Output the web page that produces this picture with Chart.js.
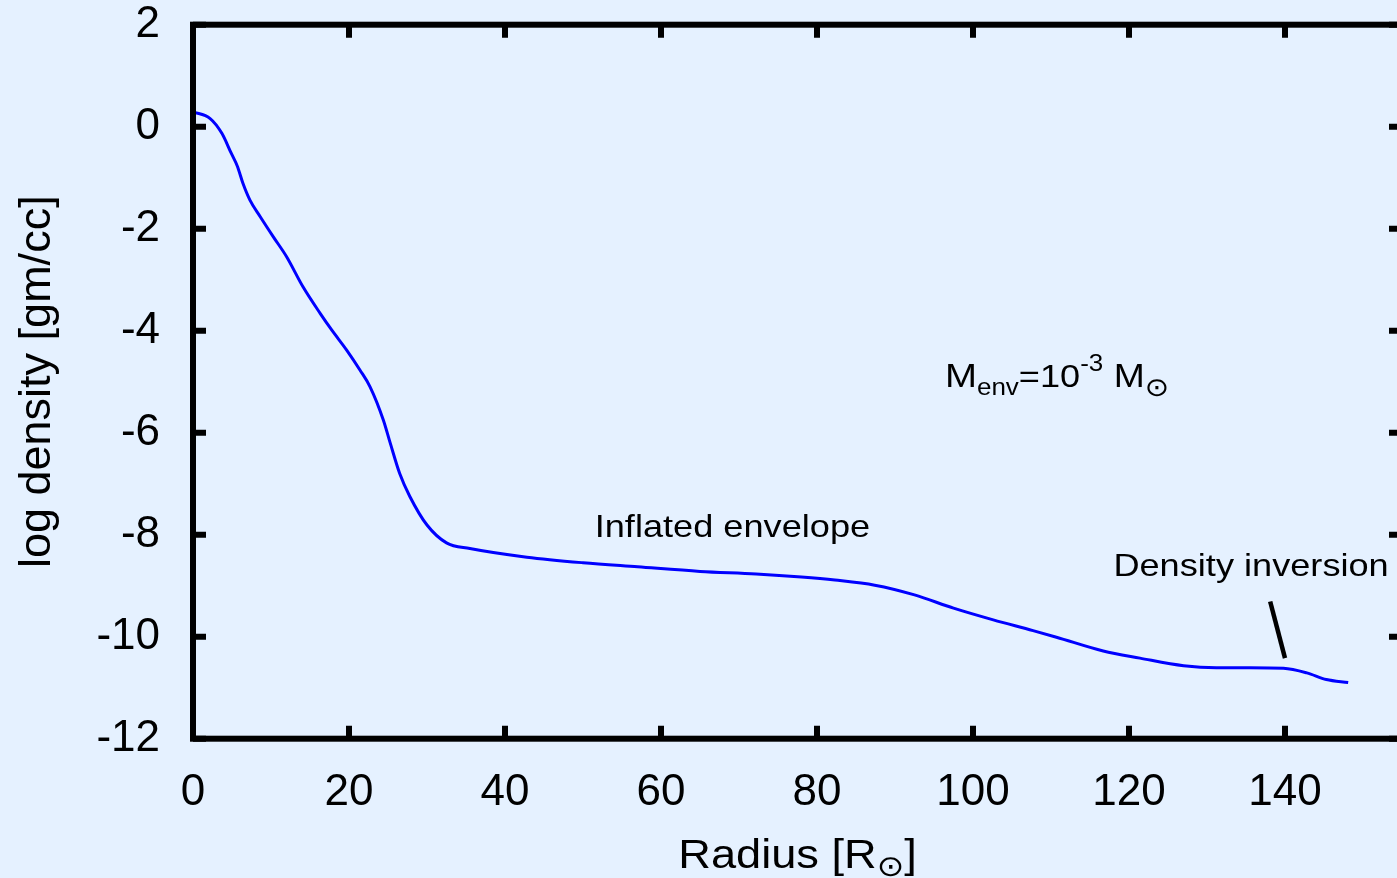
<!DOCTYPE html>
<html>
<head>
<meta charset="utf-8">
<title>log density profile</title>
<script src="https://cdn.jsdelivr.net/npm/chart.js@4.4.0/dist/chart.umd.min.js"></script>
<style>
html, body { margin: 0; padding: 0; background: #e5f1ff; overflow: hidden; }
#wrap { position: absolute; left: 0; top: 0; width: 1410px; height: 878px; }
</style>
</head>
<body>
<div id="wrap"><canvas id="chart1" width="1410" height="878"></canvas></div>
<script>
var radius = [0, 2.2, 3.7, 4.9, 5.7, 6.4, 7.3, 8.6, 10.3, 12.0, 14.1, 16.3, 17.8, 19.7, 21.4, 22.7,
    24.4, 25.3, 26.5, 27.8, 30.0, 32.5, 35.5, 42.8, 50, 57, 65, 72.2, 78, 82.3, 87.4, 92.5,
    97.5, 102.6, 107.7, 110.7, 116.7, 121.4, 127, 131.2, 135.5, 139.8, 142.8, 145.3, 148.1];
var logDensity = [0.29, 0.16, -0.13, -0.52, -0.78, -1.11, -1.44, -1.76, -2.16, -2.55, -3.14, -3.66, -3.99, -4.38, -4.77, -5.10,
    -5.75, -6.21, -6.80, -7.25, -7.81, -8.16, -8.27, -8.44, -8.55, -8.63, -8.72, -8.77, -8.83, -8.89, -8.99, -9.18,
    -9.44, -9.67, -9.88, -10.01, -10.28, -10.42, -10.57, -10.61, -10.61, -10.62, -10.71, -10.84, -10.90];

var xTicks = [0, 20, 40, 60, 80, 100, 120, 140];
var yTicks = [2, 0, -2, -4, -6, -8, -10, -12];

var FONT = "'Liberation Sans', Arial, sans-serif";
var SYM = "'DejaVu Sans', sans-serif";
var SX = 1.13;   // el texto original sale algo ensanchado

Chart.defaults.font.family = FONT;
Chart.defaults.color = '#000';

// dibuja texto con sub/superíndices, pieza a pieza
function drawRich(ctx, parts, x, y, align) {
    var widths = parts.map(function (p) {
        ctx.font = p[1] + 'px ' + (p[3] || FONT);
        return ctx.measureText(p[0]).width * SX;
    });
    var total = widths.reduce(function (a, b) { return a + b; }, 0);
    var cx = align === 'center' ? x - total / 2 : x;
    parts.forEach(function (p, i) {
        ctx.save();
        ctx.font = p[1] + 'px ' + (p[3] || FONT);
        ctx.textAlign = 'left';
        ctx.textBaseline = 'alphabetic';
        ctx.fillStyle = '#000';
        ctx.translate(cx, y + p[2]);
        ctx.scale(SX, 1);
        ctx.fillText(p[0], 0, 0);
        ctx.restore();
        cx += widths[i];
    });
}

// marco grueso con marcas hacia dentro, como gnuplot
var framePlugin = {
    id: 'frame',
    afterDatasetsDraw: function (chart) {
        var ctx = chart.ctx, a = chart.chartArea;
        var xs = chart.scales.x, ys = chart.scales.y;
        var tick = 13;
        ctx.save();
        ctx.strokeStyle = '#000';
        ctx.lineWidth = 6;
        ctx.lineCap = 'butt';
        ctx.beginPath();
        xTicks.forEach(function (v) {
            var px = xs.getPixelForValue(v);
            ctx.moveTo(px, a.bottom); ctx.lineTo(px, a.bottom - tick);
            ctx.moveTo(px, a.top); ctx.lineTo(px, a.top + tick);
        });
        yTicks.forEach(function (v) {
            var py = ys.getPixelForValue(v);
            ctx.moveTo(a.left, py); ctx.lineTo(a.left + tick, py);
            ctx.moveTo(a.right, py); ctx.lineTo(a.right - tick, py);
        });
        ctx.stroke();
        ctx.lineJoin = 'miter';
        ctx.strokeRect(a.left, a.top, a.right - a.left, a.bottom - a.top);
        ctx.restore();
    }
};

// etiquetas, flecha y títulos de ejes
var notesPlugin = {
    id: 'notes',
    afterDraw: function (chart) {
        var ctx = chart.ctx, a = chart.chartArea;
        var xs = chart.scales.x, ys = chart.scales.y;

        drawRich(ctx, [['Inflated envelope', 32, 0]], xs.getPixelForValue(51.5), ys.getPixelForValue(-8.05), 'left');
        drawRich(ctx, [['Density inversion', 32, 0]], xs.getPixelForValue(118.0), ys.getPixelForValue(-8.81), 'left');
        drawRich(ctx, [['M', 34, 0], ['env', 23, 8.3], ['=10', 32, 0], ['-3', 23, -16], [' M', 33, 0], ['\u2299', 26, 9, SYM]],
            xs.getPixelForValue(96.4), ys.getPixelForValue(-5.10), 'left');

        ctx.save();
        ctx.strokeStyle = '#000';
        ctx.lineWidth = 4.5;
        ctx.beginPath();
        ctx.moveTo(xs.getPixelForValue(138.1), ys.getPixelForValue(-9.31));
        ctx.lineTo(xs.getPixelForValue(140.0), ys.getPixelForValue(-10.42));
        ctx.stroke();
        ctx.restore();

        // título eje x
        drawRich(ctx, [['Radius [R', 40, 0], ['\u2299', 29, 8, SYM], [']', 40, 0]], (a.left + a.right) / 2, 868.3, 'center');

        // título eje y
        ctx.save();
        ctx.font = '45px ' + FONT;
        ctx.fillStyle = '#000';
        ctx.textAlign = 'center';
        ctx.textBaseline = 'alphabetic';
        ctx.translate(50, (a.top + a.bottom) / 2);
        ctx.rotate(-Math.PI / 2);
        ctx.fillText('log density [gm/cc]', 0, 0);
        ctx.restore();
    }
};

var dataChart1 = {
    datasets: [{
        label: 'log density',
        data: radius.map(function (r, i) { return { x: r, y: logDensity[i] }; }),
        borderColor: '#0000ff',
        borderWidth: 3,
        pointRadius: 0,
        fill: false,
        cubicInterpolationMode: 'monotone'
    }]
};

var configChart1 = {
    type: 'line',
    data: dataChart1,
    options: {
        responsive: false,
        animation: false,
        events: [],
        layout: { padding: { top: 24.7, right: 8, left: 0, bottom: 0 } },
        plugins: { legend: { display: false }, tooltip: { enabled: false } },
        scales: {
            x: {
                type: 'linear',
                position: 'bottom',
                min: 0,
                max: 155,
                grid: { display: false },
                border: { display: false },
                ticks: { font: { size: 44, lineHeight: 1 }, padding: 24, maxRotation: 0, autoSkip: false },
                afterBuildTicks: function (scale) { scale.ticks = xTicks.map(function (v) { return { value: v }; }); },
                afterFit: function (scale) {
                    scale.height = 878 - 738.7;
                    scale.paddingLeft = 0; scale.paddingRight = 0;
                }
            },
            y: {
                type: 'linear',
                position: 'left',
                min: -12,
                max: 2,
                grid: { display: false },
                border: { display: false },
                ticks: { font: { size: 44, lineHeight: 1 }, padding: 25, autoSkip: false },
                afterBuildTicks: function (scale) { scale.ticks = yTicks.map(function (v) { return { value: v }; }); },
                afterFit: function (scale) {
                    scale.width = 193;
                    scale.paddingTop = 0; scale.paddingBottom = 0;
                }
            }
        }
    },
    plugins: [framePlugin, notesPlugin]
};

var ctxChart1 = document.getElementById('chart1').getContext('2d');
new Chart(ctxChart1, configChart1);
</script>
</body>
</html>
